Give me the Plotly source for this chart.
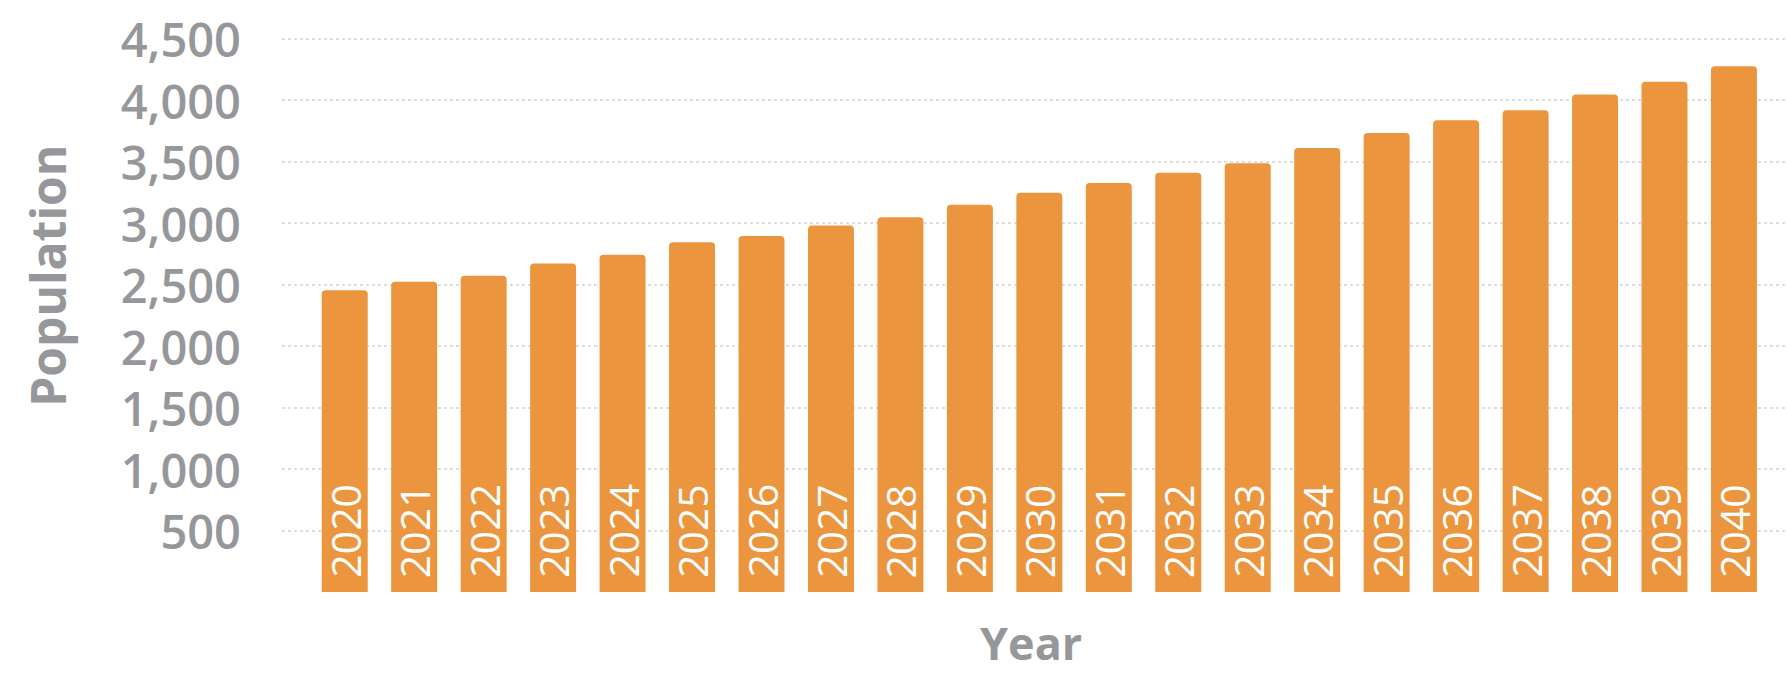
import plotly.graph_objects as go

years = [2020, 2021, 2022, 2023, 2024, 2025, 2026, 2027, 2028, 2029, 2030,
         2031, 2032, 2033, 2034, 2035, 2036, 2037, 2038, 2039, 2040]
population = [2455, 2525, 2574, 2673, 2744, 2846, 2896, 2983, 3050, 3151, 3248,
              3328, 3411, 3488, 3612, 3734, 3838, 3920, 4049, 4151, 4278]
y_ticks = [500, 1000, 1500, 2000, 2500, 3000, 3500, 4000, 4500]
y_tick_labels = ["500", "1,000", "1,500", "2,000", "2,500", "3,000", "3,500", "4,000", "4,500"]

ORANGE = "#EC953F"
GREY = "#96979B"
FONT = "Open Sans"

fig = go.Figure(go.Bar(
    x=years,
    y=population,
    marker=dict(color=ORANGE, line=dict(width=0), cornerradius=4),
    hoverinfo="x+y",
))

# year labels inside the bars, reading bottom-to-top
for yr in years:
    fig.add_annotation(
        x=yr, y=0, xref="x", yref="y",
        text=str(yr), textangle=-90,
        xanchor="center", yanchor="bottom", yshift=12,
        showarrow=False,
        font=dict(family=FONT, size=41, color="white", weight=500),
    )

# axis titles
fig.add_annotation(
    x=-0.1556, y=0.534, xref="paper", yref="paper",
    text="Population", textangle=-90,
    xanchor="center", yanchor="middle", showarrow=False,
    font=dict(family=FONT, size=48, color=GREY, weight="bold"),
)
fig.add_annotation(
    x=0.498, y=-0.086, xref="paper", yref="paper",
    text="Year",
    xanchor="center", yanchor="middle", showarrow=False,
    font=dict(family=FONT, size=45, color=GREY, weight="bold"),
)

fig.update_layout(
    width=1786, height=677,
    margin=dict(l=282, r=0, t=0, b=85),
    paper_bgcolor="white",
    plot_bgcolor="white",
    bargap=0.338,
    showlegend=False,
    font=dict(family=FONT, color=GREY),
)

fig.update_xaxes(
    range=[2019.097, 2040.749],
    showticklabels=False,
    showgrid=False,
    zeroline=False,
    showline=False,
    ticks="",
)

fig.update_yaxes(
    range=[0, 4817],
    tickvals=y_ticks,
    ticktext=y_tick_labels,
    tickfont=dict(family=FONT, size=47, color=GREY, weight=600),
    ticklabelstandoff=40,
    ticklabelshift=2,
    showgrid=True,
    gridcolor="#DDDDDD",
    gridwidth=2,
    griddash="dot",
    zeroline=False,
    showline=False,
    ticks="",
)

fig.write_html("out.html")
